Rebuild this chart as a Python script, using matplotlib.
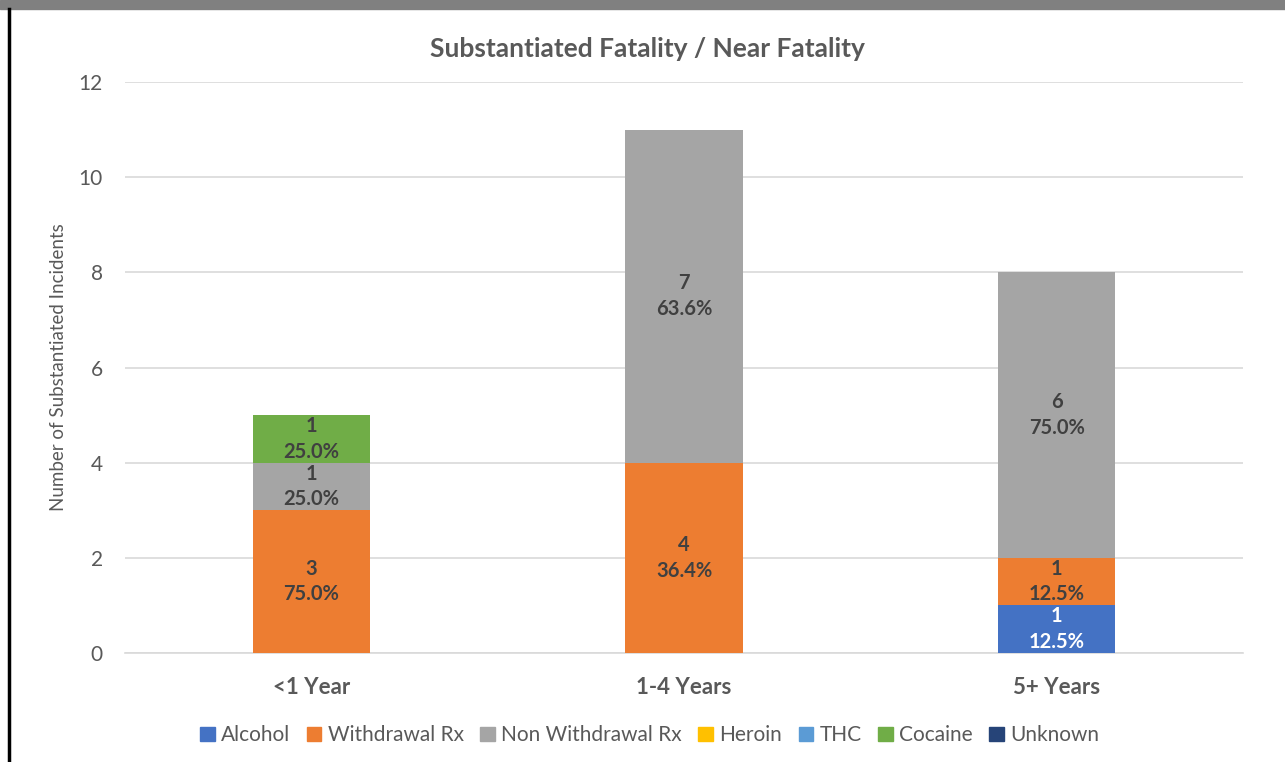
import matplotlib.pyplot as plt
import numpy as np
from matplotlib.patches import Rectangle
from matplotlib.lines import Line2D

plt.rcParams['font.family'] = ['Lato', 'DejaVu Sans']

categories = ["<1 Year", "1-4 Years", "5+ Years"]
drugs = ["Alcohol", "Withdrawal Rx", "Non Withdrawal Rx", "Heroin", "THC", "Cocaine", "Unknown"]
colors = ["#4472C4", "#ED7D31", "#A5A5A5", "#FFC000", "#5B9BD5", "#70AD47", "#264478"]

alcohol = [0, 0, 1]
withdrawal = [3, 4, 1]
non_withdrawal = [1, 7, 6]
heroin = [0, 0, 0]
thc = [0, 0, 0]
cocaine = [1, 0, 0]
unknown = [0, 0, 0]
series = [alcohol, withdrawal, non_withdrawal, heroin, thc, cocaine, unknown]

# percentage labels as printed on the chart
pct_alcohol = ["", "", "12.5%"]
pct_withdrawal = ["75.0%", "36.4%", "12.5%"]
pct_non_withdrawal = ["25.0%", "63.6%", "75.0%"]
pct_cocaine = ["25.0%", "", ""]
pct_labels = [pct_alcohol, pct_withdrawal, pct_non_withdrawal, None, None, pct_cocaine, None]

fig = plt.figure(figsize=(12.85, 7.62), dpi=100)
ax = fig.add_axes([0.0973, 0.143, 0.87, 0.7494])

x = np.arange(len(categories))
width = 0.314
bottom = np.zeros(len(categories))
for vals, col, name, pcts in zip(series, colors, drugs, pct_labels):
    vals = np.array(vals, dtype=float)
    ax.bar(x, vals, width, bottom=bottom, color=col, label=name, zorder=3)
    if pcts is not None:
        for i, v in enumerate(vals):
            if v > 0:
                tc = "white" if name == "Alcohol" else "#404040"
                ax.text(x[i], bottom[i] + v / 2, "%d\n%s" % (v, pcts[i]),
                        ha="center", va="center", fontsize=14.5, fontweight="bold",
                        color=tc, linespacing=1.35, zorder=4)
    bottom += vals

ax.set_xlim(-0.5, 2.5)
ax.set_ylim(0, 12)
ax.set_yticks(range(0, 13, 2))
ax.grid(axis="y", color="#D9D9D9", linewidth=1.2, zorder=0)
for s in ["top", "right", "left"]:
    ax.spines[s].set_visible(False)
ax.spines["bottom"].set_color("#D9D9D9")
ax.spines["bottom"].set_linewidth(1.2)
ax.tick_params(axis="both", length=0)
ax.tick_params(axis="y", labelsize=15, labelcolor="#595959", pad=16)
ax.set_xticks(x)
ax.set_xticklabels(categories, fontsize=16, fontweight="bold", color="#595959")
ax.tick_params(axis="x", pad=17)
ax.set_ylabel("Number of Substantiated Incidents", fontsize=13.5, color="#595959", labelpad=8)

fig.text(0.5035, 0.936, "Substantiated Fatality / Near Fatality", ha="center", va="center",
         fontsize=19, fontweight="bold", color="#595959")

handles = [Rectangle((0, 0), 1, 1, color=c) for c in colors]
fig.legend(handles, drugs, loc="center", bbox_to_anchor=(0.5055, 0.035), ncol=7,
           frameon=False, fontsize=15, handlelength=0.7, handleheight=0.7,
           handletextpad=0.3, columnspacing=0.8, labelcolor="#595959")

# slide banner and border
fig.patches.append(Rectangle((0, 1 - 9 / 762), 1, 9 / 762, transform=fig.transFigure,
                             color="#808080", zorder=0))
fig.lines.append(Line2D([8.5 / 1285, 8.5 / 1285], [0, 1 - 9 / 762], transform=fig.transFigure,
                        color="black", linewidth=2.5))

fig.savefig("out.png", dpi=100)
